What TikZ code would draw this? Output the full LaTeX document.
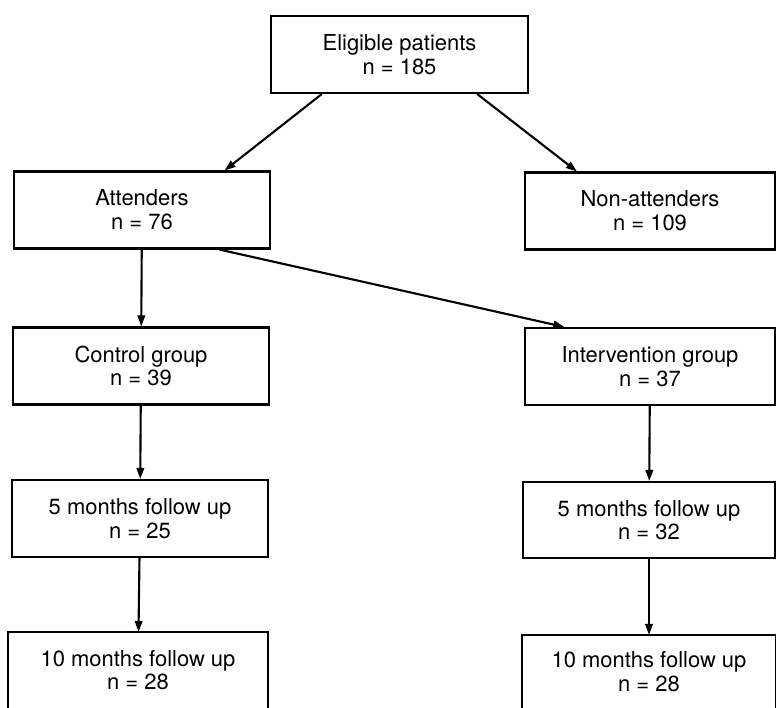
\documentclass[tikz,border=0pt]{standalone}
\usepackage{fontspec}
\setmainfont{TeX Gyre Heros}
\usetikzlibrary{arrows.meta,calc,positioning}

\begin{document}
\begin{tikzpicture}[x=0.02cm,y=-0.02cm,
    group/.style={draw,line width=1.2pt,align=center,inner sep=0pt,minimum width=5.12cm,minimum height=1.54cm,font=\fontsize{12.5}{13.5}\selectfont},
    flow/.style={line width=1.2pt,-{Triangle[length=0.22cm,width=0.15cm]}}]
    \useasboundingbox (0,0) rectangle (776,707);

    % Eligible patients
    \node[group,minimum width=5.14cm] (eligible) at (399.5,54.5) {Eligible patients\\n = 185};

    % Attenders and non-attenders
    \node[group] (attenders) at (142,210) {Attenders\\n = 76};
    \node[group,minimum width=5.0cm] (nonatt) at (650,211) {Non-attenders\\n = 109};

    % Groups
    \node[group] (control) at (141,366) {Control group\\n = 39};
    \node[group,minimum width=5.0cm] (interv) at (650,366.5) {Intervention group\\n = 37};

    % 5 months
    \node[group] (fiveL) at (140,518.5) {5 months follow up\\n = 25};
    \node[group,minimum width=5.04cm,minimum height=1.52cm] (fiveR) at (649,520) {5 months follow up\\n = 32};

    % 10 months (cut off at the bottom)
    \node[group,draw=none,minimum width=5.16cm,minimum height=1.48cm] (tenL) at (138,670) {10 months follow up\\n = 28};
    \node[group,draw=none,minimum width=5.04cm,minimum height=1.42cm] (tenR) at (649,671.5) {10 months follow up\\n = 28};
    \draw[line width=1.2pt] (tenL.south west) |- (tenL.north east) -- (tenL.south east);
    \draw[line width=1.2pt] (tenR.south west) |- (tenR.north east) -- (tenR.south east);

    % Arrows
    \draw[flow] ($(eligible.south west)!0.2!(eligible.south east)$) -- ($(attenders.north west)!0.82!(attenders.north east)$);
    \draw[flow] ($(eligible.south west)!0.8!(eligible.south east)$) -- ($(nonatt.north west)!0.21!(nonatt.north east)$);
    \draw[flow] (attenders) -- (control);
    \draw[flow] ($(attenders.south west)!0.8!(attenders.south east)$) -- ($(interv.north west)!0.16!(interv.north east)$);
    \draw[flow] (control) -- (fiveL);
    \draw[flow] (fiveL) -- (tenL);
    \draw[flow] (interv) -- (fiveR);
    \draw[flow] (fiveR) -- (tenR);
\end{tikzpicture}
\end{document}
